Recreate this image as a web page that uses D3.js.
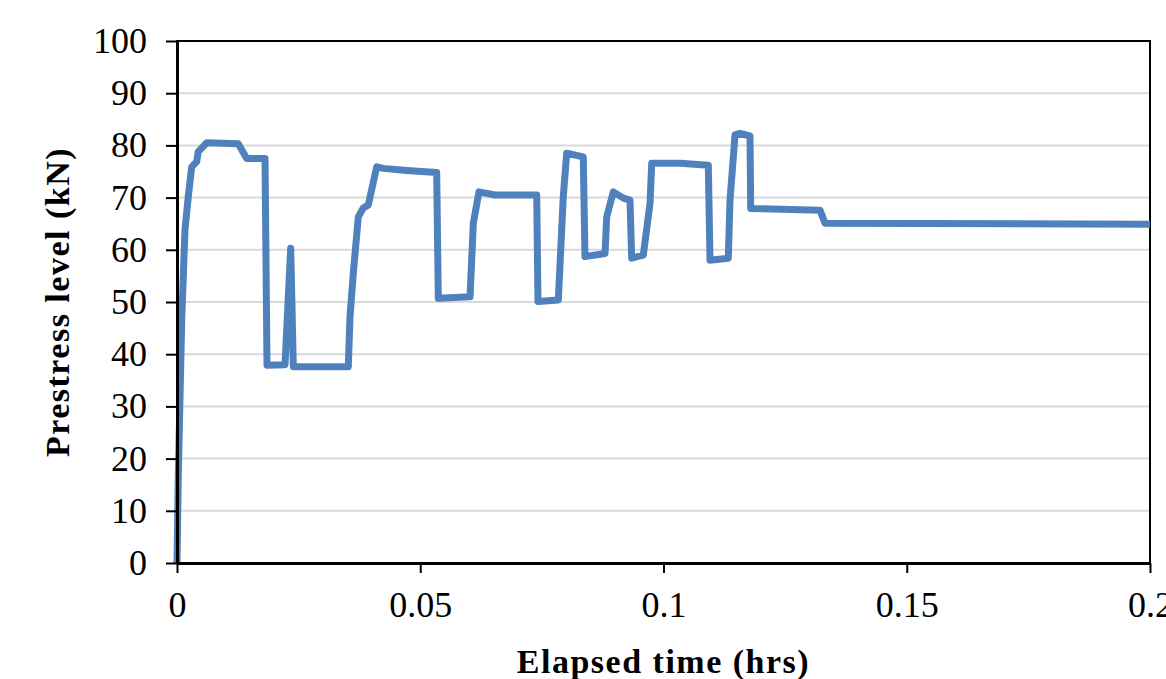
<!DOCTYPE html>
<html>
<head>
<meta charset="utf-8">
<script src="https://cdn.jsdelivr.net/npm/d3@7"></script>
<style>
  body { margin: 0; background: #fff; }
  svg { display: block; }
  .tick text { font-family: "Liberation Serif", "Times New Roman", serif; font-size: 36px; fill: #000; }
  .axis-title { font-family: "Liberation Serif", "Times New Roman", serif; font-size: 34px; font-weight: bold; letter-spacing: 1.5px; }
</style>
</head>
<body>
<svg width="1166" height="679"></svg>
<script>
// elapsed time (hrs) and prestress level (kN)
var times = [0, 0.00027, 0.00097, 0.00164, 0.00232, 0.00302, 0.00405, 0.00438, 0.0061,
  0.0126, 0.01433, 0.01809, 0.0185, 0.0222, 0.02337, 0.02391, 0.03521, 0.03556, 0.03624,
  0.03727, 0.03829, 0.03932, 0.04105, 0.0424, 0.04721, 0.05338, 0.05371, 0.06023, 0.06091,
  0.06208, 0.06536, 0.07394, 0.0742, 0.07838, 0.0794, 0.0801, 0.08351, 0.08386, 0.08798,
  0.08833, 0.08968, 0.09174, 0.09311, 0.09346, 0.09585, 0.09723, 0.09758, 0.10339, 0.10921,
  0.10956, 0.11332, 0.11367, 0.1147, 0.11573, 0.11778, 0.11793, 0.13217, 0.1332, 0.2];
var prestress = [0, 17, 46.5, 63.8, 70.2, 75.9, 76.9, 78.8, 80.5,
  80.3, 77.5, 77.5, 37.9, 38.0, 60.3, 37.6, 37.6, 47.2, 55.5,
  66.3, 68, 68.6, 75.9, 75.6, 75.2, 74.8, 50.7, 51, 65.1,
  71.1, 70.5, 70.5, 50.1, 50.4, 70.2, 78.5, 77.8, 58.7, 59.3,
  66.3, 71.1, 69.9, 69.5, 58.4, 59, 68.9, 76.6, 76.6, 76.2,
  58, 58.4, 69.5, 82, 82.3, 81.8, 67.9, 67.6, 65.1, 64.9];
var xTicks = [0, 0.05, 0.1, 0.15, 0.2];
var yTicks = [0, 10, 20, 30, 40, 50, 60, 70, 80, 90, 100];

var plotLeft = 177, plotTop = 41, plotRight = 1150, plotBottom = 563;

var svg = d3.select("svg");
var x = d3.scaleLinear().domain([0, 0.2]).range([plotLeft, plotRight]);
var y = d3.scaleLinear().domain([0, 100]).range([plotBottom, plotTop]);

// gridlines
svg.append("g")
  .selectAll("line")
  .data(yTicks.slice(1))
  .enter()
  .append("line")
  .attr("x1", plotLeft).attr("x2", plotRight)
  .attr("y1", function(d) { return y(d); })
  .attr("y2", function(d) { return y(d); })
  .attr("stroke", "#d9d9d9")
  .attr("stroke-width", 2);

// plot border
svg.append("rect")
  .attr("x", plotLeft).attr("y", plotTop)
  .attr("width", plotRight - plotLeft).attr("height", plotBottom - plotTop)
  .attr("fill", "none")
  .attr("stroke", "#000")
  .attr("stroke-width", 2);

var data = times.map(function(t, i) { return { t: t, v: prestress[i] }; });

var line = d3.line()
  .x(function(d) { return x(d.t); })
  .y(function(d) { return y(d.v); });

svg.append("path")
  .datum(data)
  .attr("d", line)
  .attr("fill", "none")
  .attr("stroke", "#4f81bd")
  .attr("stroke-width", 7)
  .attr("stroke-linejoin", "round");

var yAxis = svg.append("g")
  .attr("transform", "translate(" + plotLeft + ",0)")
  .call(d3.axisLeft(y).tickValues(yTicks).tickSize(11).tickSizeOuter(0).tickPadding(19));

var xAxis = svg.append("g")
  .attr("transform", "translate(0," + plotBottom + ")")
  .call(d3.axisBottom(x).tickValues(xTicks).tickFormat(d3.format("~g")).tickSize(10).tickSizeOuter(0).tickPadding(18));

[xAxis, yAxis].forEach(function(a) {
  a.select(".domain").attr("stroke", "#000").attr("stroke-width", 3);
  a.selectAll(".tick line").attr("stroke", "#000").attr("stroke-width", 2);
  a.attr("font-family", null).attr("font-size", null);
});

svg.append("text")
  .attr("class", "axis-title")
  .attr("x", (plotLeft + plotRight) / 2)
  .attr("y", 673)
  .attr("text-anchor", "middle")
  .text("Elapsed time (hrs)");

svg.append("text")
  .attr("class", "axis-title")
  .attr("transform", "translate(69," + (plotTop + plotBottom) / 2 + ") rotate(-90)")
  .attr("text-anchor", "middle")
  .text("Prestress level (kN)");
</script>
</body>
</html>
